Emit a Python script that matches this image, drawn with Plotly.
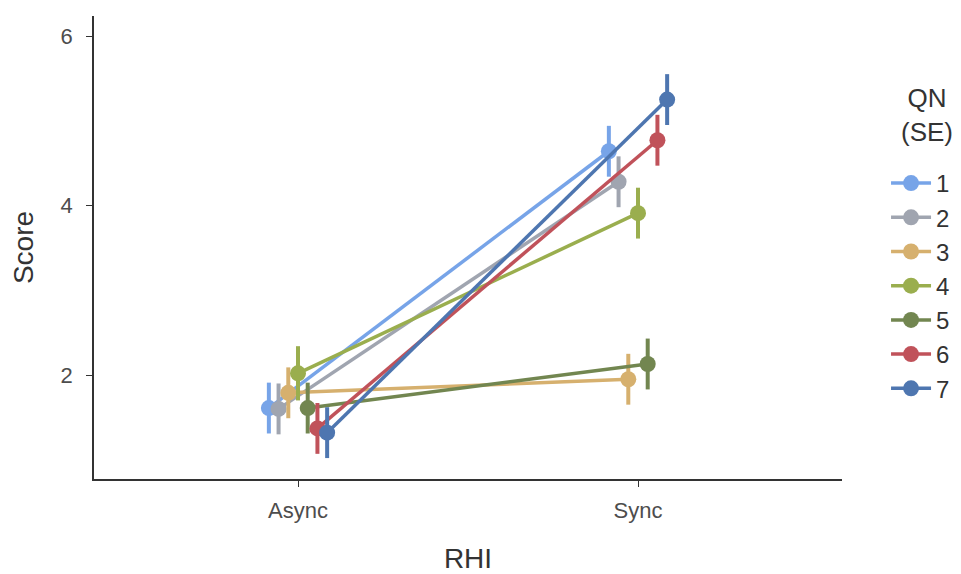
import plotly.graph_objects as go

categories = ["Async", "Sync"]
groups = ["1", "2", "3", "4", "5", "6", "7"]
async_mean = [1.61, 1.60, 1.79, 2.02, 1.61, 1.37, 1.32]
sync_mean = [4.64, 4.28, 1.95, 3.91, 2.13, 4.77, 5.25]
async_se = [0.30, 0.30, 0.30, 0.32, 0.30, 0.30, 0.30]
sync_se = [0.30, 0.30, 0.30, 0.30, 0.30, 0.30, 0.30]
colors = ["#77a4e8", "#a0a5b0", "#d6b06e", "#9aae4e", "#728650", "#c0525a", "#4e76b0"]
legend_title = "QN<br>(SE)"

dodge = 0.2
fig = go.Figure()
n = len(groups)
for i, g in enumerate(groups):
    off = (i - (n - 1) / 2) * dodge / n
    xs = [1 + off, 2 + off]
    fig.add_trace(go.Scatter(
        x=xs, y=[async_mean[i], sync_mean[i]],
        mode="lines+markers", name=g,
        line=dict(color=colors[i], width=3.5),
        marker=dict(color=colors[i], size=16),
        error_y=dict(type="data", array=[async_se[i], sync_se[i]], visible=True,
                     color=colors[i], thickness=4, width=0),
    ))

font = "Liberation Sans, Arial, sans-serif"
fig.update_layout(
    width=961, height=574,
    margin=dict(l=94, r=119, t=16, b=95),
    plot_bgcolor="white", paper_bgcolor="white",
    font=dict(family=font, color="#333333"),
    xaxis=dict(range=[0.4, 2.6], tickvals=[1, 2], ticktext=categories, automargin=False,
               showline=True, linecolor="#333333", linewidth=1.5,
               ticks="outside", ticklen=6, tickcolor="#333333", ticklabelstandoff=5,
               tickfont=dict(size=22, color="#4d4d4d"), showgrid=False, zeroline=False,
               title=dict(text="RHI", font=dict(size=28, color="#333333"), standoff=26)),
    yaxis=dict(range=[0.773, 6.236], tickvals=[2, 4, 6], automargin=False,
               showline=True, linecolor="#333333", linewidth=1.5,
               ticks="outside", ticklen=6, tickcolor="#333333", ticklabelstandoff=9,
               tickfont=dict(size=22, color="#4d4d4d"), showgrid=False, zeroline=False,
               title=dict(text="Score", font=dict(size=28, color="#333333"), standoff=19)),
    legend=dict(font=dict(size=24, color="#333333"),
                xref="container", yref="container",
                x=0.922, xanchor="left", y=1 - 161 / 574, yanchor="top",
                tracegroupgap=0, itemwidth=40, maxheight=1.0),
    annotations=[dict(text=legend_title, xref="paper", yref="paper",
                      x=(927 - 94) / 748, y=(479 - 115) / 463, xanchor="center", yanchor="middle",
                      showarrow=False, align="center",
                      font=dict(size=26, color="#333333", family=font))],
    showlegend=True,
)
fig.write_html("out.html")
